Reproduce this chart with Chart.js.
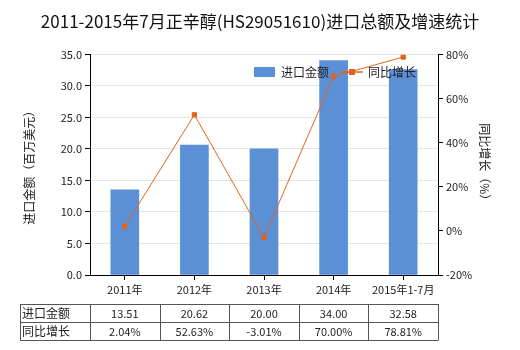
<!DOCTYPE html>
<html>
<head>
<meta charset="utf-8">
<script src="https://cdn.jsdelivr.net/npm/chart.js@4/dist/chart.umd.min.js"></script>
<style>
  body { margin: 0; background: #fff; }
  #wrap { width: 520px; height: 350px; }
</style>
</head>
<body>
<div id="wrap"><canvas id="myChart" width="520" height="350"></canvas></div>
<script>
const years = ['2011年', '2012年', '2013年', '2014年', '2015年1-7月'];
const importValue = [13.51, 20.62, 20.00, 34.00, 32.58];
const growth = [2.04, 52.63, -3.01, 70.00, 78.81];
const importText = ['13.51', '20.62', '20.00', '34.00', '32.58'];
const growthText = ['2.04%', '52.63%', '-3.01%', '70.00%', '78.81%'];

const FONT = '"Noto Sans CJK SC", "Noto Sans", sans-serif';
const BLUE = '#5b8fd6';
const ORANGE = '#e2641c';

// legend + table drawn by hand so they sit where the original puts them
const extras = {
    id: 'extras',
    afterDatasetsDraw(chart) {
        const c = chart.ctx;
        c.save();
        c.font = '12px ' + FONT;
        c.textBaseline = 'middle';
        c.fillStyle = BLUE;
        c.fillRect(254, 67, 21, 10);
        c.fillStyle = '#222';
        c.fillText('进口金额', 281, 72);
        c.strokeStyle = ORANGE;
        c.lineWidth = 1.5;
        c.beginPath();
        c.moveTo(341, 72);
        c.lineTo(363, 72);
        c.stroke();
        c.fillStyle = ORANGE;
        c.fillRect(349, 69, 6, 6);
        c.fillStyle = '#222';
        c.fillText('同比增长', 368, 72);
        c.restore();
    },
    afterDraw(chart) {
        const c = chart.ctx;
        const x = chart.scales.x;
        const area = chart.chartArea;
        const w = (area.right - area.left) / years.length;
        const top = 304, mid = 322, bot = 340, left = 20;
        c.save();
        c.strokeStyle = '#555';
        c.lineWidth = 1;
        c.beginPath();
        [top, mid, bot].forEach(y => { c.moveTo(left, y + 0.5); c.lineTo(area.right, y + 0.5); });
        c.moveTo(left + 0.5, top); c.lineTo(left + 0.5, bot + 0.5);
        for (let i = 0; i <= years.length; i++) {
            const px = Math.round(area.left + i * w) + 0.5;
            c.moveTo(px, top); c.lineTo(px, bot + 0.5);
        }
        c.stroke();
        c.fillStyle = '#222';
        c.textBaseline = 'middle';
        c.textAlign = 'left';
        c.font = '12px ' + FONT;
        c.fillText('进口金额', left + 2, (top + mid) / 2);
        c.fillText('同比增长', left + 2, (mid + bot) / 2);
        c.font = '11px ' + FONT;
        c.textAlign = 'center';
        years.forEach((y, i) => {
            const cx = x.getPixelForValue(i);
            c.fillText(importText[i], cx, (top + mid) / 2 + 1);
            c.fillText(growthText[i], cx, (mid + bot) / 2 + 1);
        });
        c.restore();
    }
};

const ctx = document.getElementById('myChart').getContext('2d');
const myChart = new Chart(ctx, {
    type: 'bar',
    data: {
        labels: years,
        datasets: [{
            type: 'line',
            label: '同比增长',
            data: growth,
            yAxisID: 'y1',
            borderColor: ORANGE,
            backgroundColor: ORANGE,
            borderWidth: 1,
            pointStyle: 'rect',
            pointRadius: 3,
            tension: 0,
            order: 0
        }, {
            label: '进口金额',
            data: importValue,
            yAxisID: 'y',
            backgroundColor: BLUE,
            barThickness: 28,
            order: 1
        }]
    },
    options: {
        responsive: false,
        animation: false,
        layout: { padding: 0 },
        plugins: {
            legend: { display: false },
            tooltip: { enabled: false },
            title: {
                display: true,
                text: '2011-2015年7月正辛醇(HS29051610)进口总额及增速统计',
                color: '#111',
                font: { family: FONT, size: 17, weight: 'normal' },
                padding: { top: 11, bottom: 23 }
            }
        },
        scales: {
            x: {
                grid: { display: true, drawOnChartArea: false, offset: false, tickLength: 5, tickColor: '#000' },
                border: { color: '#000' },
                ticks: { color: '#222', font: { family: FONT, size: 11 }, maxRotation: 0, autoSkip: false },
                afterFit(s) { s.height = 75; }
            },
            y: {
                position: 'left',
                min: 0, max: 35,
                ticks: { stepSize: 5, color: '#222', font: { family: FONT, size: 11 }, callback: v => v.toFixed(1) },
                grid: { color: '#e4e4e4', tickColor: '#000', tickLength: 5 },
                border: { color: '#000' },
                title: { display: true, text: '进口金额（百万美元）', color: '#222', font: { family: FONT, size: 12 }, padding: { top: 22 } },
                afterFit(s) { s.width = 90; }
            },
            y1: {
                position: 'right',
                min: -20, max: 80,
                ticks: { stepSize: 20, color: '#222', font: { family: FONT, size: 11 }, callback: v => v + '%' },
                grid: { drawOnChartArea: false, tickColor: '#000', tickLength: 5 },
                border: { color: '#000' },
                title: { display: true, text: '同比增长（%）', color: '#222', font: { family: FONT, size: 12 }, padding: { top: 28 } },
                afterFit(s) { s.width = 82; }
            }
        }
    },
    plugins: [extras]
});
</script>
</body>
</html>
